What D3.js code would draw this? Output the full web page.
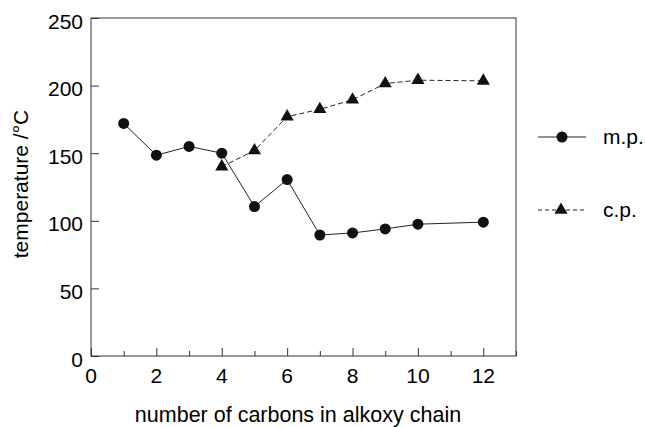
<!DOCTYPE html>
<html><head><meta charset="utf-8">
<script src="https://cdn.jsdelivr.net/npm/d3@7"></script>
<style>body{margin:0;background:#fff}svg{display:block}text{font-family:"Liberation Sans",Arial,sans-serif;fill:#000}</style>
</head><body><svg id="c" width="646" height="427"></svg>
<script>
const mpX = [1,2,3,4,5,6,7,8,9,10,12];
const mpY = [172,148.5,155,150,110.5,130.5,89.5,91,94,97.5,99];
const cpX = [4,5,6,7,8,9,10,12];
const cpY = [140,152,177,182.5,189.5,201.5,204,203.5];
const xTicks = [0,2,4,6,8,10,12];
const yTicks = [0,50,100,150,200,250];
const seriesNames = ["m.p.","c.p."];

const svg = d3.select("#c");
const L=91,R=516,T=18,B=356;
const x = d3.scaleLinear().domain([0,13]).range([L,R]);
const y = d3.scaleLinear().domain([0,250]).range([B,T]);
const ink="#111";

svg.append("rect").attr("x",L).attr("y",T).attr("width",R-L).attr("height",B-T)
  .attr("fill","none").attr("stroke","#333").attr("stroke-width",1);

// minor x ticks (odd) and major x ticks (even), pointing inward
const xm = svg.append("g").attr("transform",`translate(0,${B})`)
  .call(d3.axisBottom(x).tickValues(d3.range(1,14,2)).tickSize(-5).tickFormat(""));
xm.select(".domain").remove();
xm.selectAll("line").attr("stroke","#333");
const xa = svg.append("g").attr("transform",`translate(0,${B})`)
  .call(d3.axisBottom(x).tickValues(xTicks).tickSize(-8).tickFormat(""));
xa.select(".domain").remove();
xa.selectAll("line").attr("stroke","#333");
svg.selectAll(".xt").data(xTicks).join("text").attr("class","xt")
  .attr("x",d=>x(d)).attr("y",B+27).attr("text-anchor","middle")
  .attr("font-size",21).text(d=>d);

const ya = svg.append("g").attr("transform",`translate(${L},0)`)
  .call(d3.axisLeft(y).tickValues(yTicks).tickSize(-8).tickFormat(""));
ya.select(".domain").remove();
ya.selectAll("line").attr("stroke","#333");
svg.selectAll(".yt").data(yTicks).join("text").attr("class","yt")
  .attr("x",L-8).attr("y",d=>y(d)+10.5).attr("text-anchor","end")
  .attr("font-size",21).text(d=>d);

svg.append("text").attr("x",298).attr("y",422).attr("text-anchor","middle")
  .attr("font-size",21.5).text("number of carbons in alkoxy chain");
svg.append("text").attr("transform","translate(28,184) rotate(-90)").attr("text-anchor","middle")
  .attr("font-size",21).text("temperature /°C");

const line = d3.line().x(d=>x(d[0])).y(d=>y(d[1]));
const mp = mpX.map((v,i)=>[v,mpY[i]]);
const cp = cpX.map((v,i)=>[v,cpY[i]]);

svg.append("path").attr("d",line(cp)).attr("fill","none").attr("stroke","#222")
  .attr("stroke-width",1).attr("stroke-dasharray","5,3");
svg.append("path").attr("d",line(mp)).attr("fill","none").attr("stroke","#222").attr("stroke-width",1);

const tri = d3.symbol().type(d3.symbolTriangle).size(75);
svg.selectAll(".cp").data(cp).join("path").attr("class","cp")
  .attr("d",tri).attr("transform",d=>`translate(${x(d[0])},${y(d[1])})`).attr("fill",ink);
svg.selectAll(".mp").data(mp).join("circle").attr("class","mp")
  .attr("cx",d=>x(d[0])).attr("cy",d=>y(d[1])).attr("r",5.5).attr("fill",ink);

const lg = [{n:seriesNames[0],y:137,dash:null,sym:"c"},{n:seriesNames[1],y:210,dash:"4,3",sym:"t"}];
lg.forEach(d=>{
  svg.append("line").attr("x1",538).attr("x2",586).attr("y1",d.y).attr("y2",d.y)
    .attr("stroke","#222").attr("stroke-dasharray",d.dash);
  if(d.sym==="c") svg.append("circle").attr("cx",562).attr("cy",d.y).attr("r",5.5).attr("fill",ink);
  else svg.append("path").attr("d",tri).attr("transform",`translate(561,${d.y})`).attr("fill",ink);
  svg.append("text").attr("x",603).attr("y",d.y+7).attr("font-size",21).text(d.n);
});
</script></body></html>
